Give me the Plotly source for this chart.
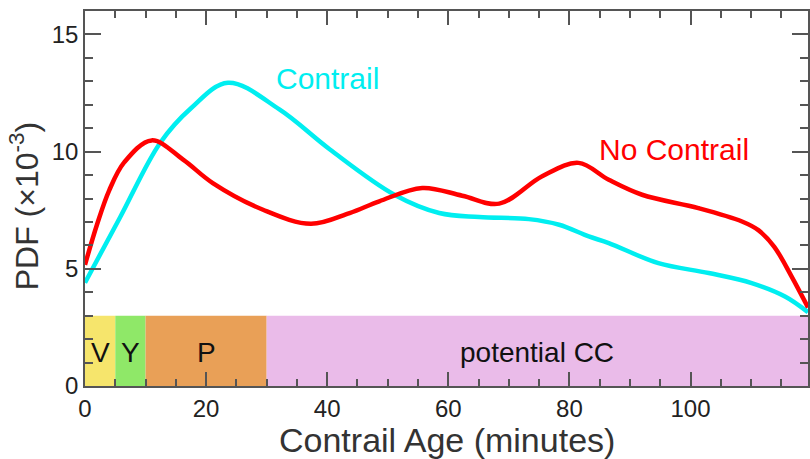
import plotly.graph_objects as go

# Contrail curve (x: minutes, y: PDF x1e-3)
contrail_x = [0, 5.8, 12.4, 17.5, 23.6, 32.1, 40.4, 51.1, 58.5, 65.1, 73.3, 78.3, 83.2, 86.5, 94.7, 103, 110.1, 115.6, 119.4]
contrail_y = [4.41, 7.2, 10.37, 11.85, 12.94, 11.8, 10.1, 8.16, 7.38, 7.21, 7.12, 6.88, 6.38, 6.1, 5.24, 4.82, 4.39, 3.82, 3.15]

# No Contrail curve
nocon_x = [0, 2, 4, 6.5, 11.0, 16.2, 21.1, 29.4, 37.3, 43.7, 48.6, 55.7, 62.3, 68.4, 75.5, 81.5, 86.5, 92.0, 101.3, 108.5, 111.2, 113.8, 116.7, 119.4]
nocon_y = [5.17, 6.9, 8.35, 9.55, 10.48, 9.66, 8.66, 7.52, 6.92, 7.38, 7.88, 8.45, 8.12, 7.78, 8.95, 9.52, 8.8, 8.16, 7.59, 7.02, 6.65, 5.95, 4.67, 3.35]

# Stage bands
band_labels = ["V", "Y", "P", "potential CC"]
band_start = [0, 5, 10, 30]
band_end = [5, 10, 30, 120]
band_top = 3
band_colors = ["#f6e56c", "#8fe868", "#e9a057", "#eabbe9"]

x_ticks = [0, 20, 40, 60, 80, 100]
y_ticks = [0, 5, 10, 15]

FONT = "Liberation Sans, Arial, sans-serif"

fig = go.Figure()

fig.add_trace(go.Scatter(x=contrail_x, y=contrail_y, mode="lines",
                         line=dict(color="#00eef0", width=4.5, shape="spline", smoothing=1.0),
                         showlegend=False, hoverinfo="skip"))
fig.add_trace(go.Scatter(x=nocon_x, y=nocon_y, mode="lines",
                         line=dict(color="#ff0000", width=4.5, shape="spline", smoothing=1.0),
                         showlegend=False, hoverinfo="skip"))

for lab, x0, x1, c in zip(band_labels, band_start, band_end, band_colors):
    fig.add_shape(type="rect", x0=x0, x1=x1, y0=0, y1=band_top, xref="x", yref="y",
                  fillcolor=c, line=dict(width=0), layer="below")
    fig.add_annotation(x=(x0 + min(x1, 119.4)) / 2, y=1.45, text=lab, showarrow=False,
                       font=dict(family=FONT, size=28, color="#111"))

fig.add_annotation(x=40.0, y=13.1, text="Contrail", showarrow=False,
                   font=dict(family=FONT, size=30, color="#00eef0"))
fig.add_annotation(x=97.3, y=10.1, text="No Contrail", showarrow=False,
                   font=dict(family=FONT, size=30, color="#ff0000"))

fig.add_annotation(xref="paper", yref="paper", x=0.501, y=-0.145, text="Contrail Age (minutes)",
                   showarrow=False, xanchor="center", yanchor="middle",
                   font=dict(family=FONT, size=34, color="#333"))
fig.add_annotation(xref="paper", yref="paper", x=-0.084, y=0.48, text="PDF (×10<sup>-3</sup>)",
                   showarrow=False, xanchor="center", yanchor="middle", textangle=-90,
                   font=dict(family=FONT, size=32, color="#333"))

axis_common = dict(showgrid=False, zeroline=False, showline=True, linecolor="#555",
                   linewidth=1.5, mirror="ticks", ticks="inside", tickcolor="#555",
                   tickwidth=1.5, tickfont=dict(family=FONT, size=24, color="#222"))

fig.update_xaxes(range=[0, 119.4], tickvals=x_ticks, ticktext=[str(v) for v in x_ticks],
                 ticklen=14, minor=dict(dtick=5, tick0=0, ticks="inside", ticklen=7,
                                        tickcolor="#555", tickwidth=1.5),
                 **axis_common)
fig.update_yaxes(range=[0, 16], tickvals=y_ticks, ticktext=[str(v) for v in y_ticks],
                 ticklen=16, minor=dict(dtick=1, tick0=0, ticks="inside", ticklen=8,
                                        tickcolor="#555", tickwidth=1.5),
                 **axis_common)

fig.update_layout(width=810, height=459, margin=dict(l=85, r=0, t=11, b=73),
                  paper_bgcolor="white", plot_bgcolor="white", showlegend=False)

fig.write_html("out.html")
